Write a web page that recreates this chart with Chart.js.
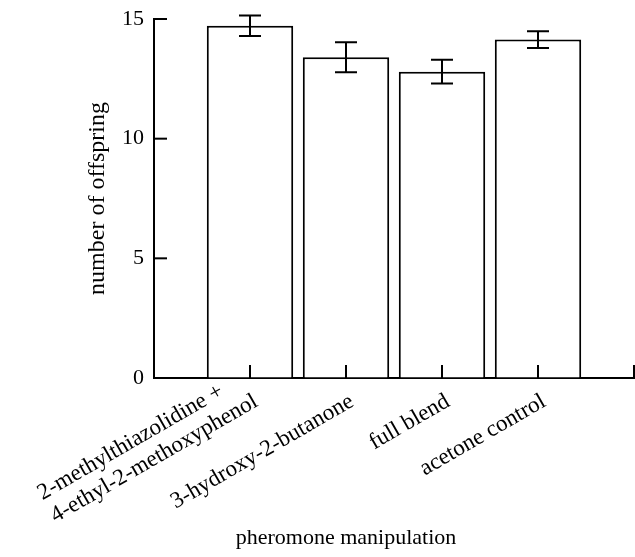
<!DOCTYPE html>
<html>
<head>
<meta charset="utf-8">
<style>
  html, body { margin: 0; padding: 0; background: #fff; }
</style>
</head>
<body>
<canvas id="myChart" width="635" height="557"></canvas>
<script src="https://cdn.jsdelivr.net/npm/chart.js"></script>
<script>
  // values
  const categories = [
    ["2-methylthiazolidine +", "4-ethyl-2-methoxyphenol"],
    "3-hydroxy-2-butanone",
    "full blend",
    "acetone control",
  ];
  const offspring = [14.72, 13.4, 12.8, 14.14];
  const errors = [0.43, 0.63, 0.5, 0.35];
  const yTicks = [0, 5, 10, 15];

  const FONT = "'Liberation Serif', 'Times New Roman', serif";
  // empty slot at each end so bars sit at 1..4 on a 0..5 axis
  const labels = ["", ...categories, ""];
  const values = [null, ...offspring, null];

  const decor = {
    id: "decor",
    afterDatasetsDraw(chart) {
      const { ctx, scales } = chart;
      const x = scales.x, y = scales.y;
      ctx.save();
      ctx.strokeStyle = "#000";
      ctx.lineWidth = 2;
      // inward ticks
      yTicks.forEach((v) => {
        const py = y.getPixelForValue(v);
        ctx.beginPath();
        ctx.moveTo(x.left, py);
        ctx.lineTo(x.left + 13, py);
        ctx.stroke();
      });
      for (let i = 1; i < labels.length; i++) {
        const px = x.getPixelForValue(i);
        ctx.beginPath();
        ctx.moveTo(px, y.bottom);
        ctx.lineTo(px, y.bottom - 13);
        ctx.stroke();
      }
      // error bars
      const meta = chart.getDatasetMeta(0);
      offspring.forEach((m, i) => {
        const bar = meta.data[i + 1];
        const hi = y.getPixelForValue(m + errors[i]);
        const lo = y.getPixelForValue(m - errors[i]);
        ctx.beginPath();
        ctx.moveTo(bar.x, hi);
        ctx.lineTo(bar.x, lo);
        ctx.moveTo(bar.x - 11, hi);
        ctx.lineTo(bar.x + 11, hi);
        ctx.moveTo(bar.x - 11, lo);
        ctx.lineTo(bar.x + 11, lo);
        ctx.stroke();
      });
      // rotated category labels, block left-aligned, last line at the tick
      ctx.fillStyle = "#000";
      ctx.font = "23px " + FONT;
      ctx.textBaseline = "middle";
      ctx.textAlign = "left";
      const lh = 26;
      categories.forEach((c, i) => {
        const lines = Array.isArray(c) ? c : [c];
        const w = Math.max(...lines.map((l) => ctx.measureText(l).width));
        ctx.save();
        ctx.translate(x.getPixelForValue(i + 1) + 6, y.bottom + 22);
        ctx.rotate(-Math.PI / 6);
        lines.forEach((l, k) => {
          ctx.fillText(l, -w, -(lines.length - 1 - k) * lh);
        });
        ctx.restore();
      });
      // x axis title
      ctx.font = "22px " + FONT;
      ctx.textAlign = "center";
      ctx.fillText("pheromone manipulation", 346, 538);
      ctx.restore();
    },
  };

  new Chart(document.getElementById("myChart"), {
    type: "bar",
    data: {
      labels: labels,
      datasets: [
        {
          data: values,
          backgroundColor: "#fff",
          borderColor: "#000",
          borderWidth: 2,
          borderSkipped: "bottom",
          categoryPercentage: 1,
          barPercentage: 0.9,
        },
      ],
    },
    options: {
      responsive: false,
      animation: false,
      events: [],
      layout: { padding: { top: 19, right: 1, left: 83, bottom: 0 } },
      plugins: { legend: { display: false }, tooltip: { enabled: false } },
      scales: {
        x: {
          offset: false,
          grid: { display: true, drawOnChartArea: false, drawTicks: false },
          border: { color: "#000", width: 2 },
          ticks: { display: false },
          afterFit: (s) => {
            s.height = 179;
            s.paddingLeft = 0;
            s.paddingRight = 0;
          },
        },
        y: {
          min: 0,
          max: 15,
          afterBuildTicks: (s) => { s.ticks = yTicks.map((v) => ({ value: v })); },
          grid: { display: true, drawOnChartArea: false, drawTicks: false },
          border: { color: "#000", width: 2 },
          ticks: {
            color: "#000",
            font: { family: FONT, size: 22 },
            padding: 10,
          },
          title: {
            display: true,
            text: "number of offspring",
            color: "#000",
            font: { family: FONT, size: 24 },
            padding: 0,
          },
          afterFit: (s) => {
            s.width = 71;
            s.paddingTop = 0;
            s.paddingBottom = 0;
          },
        },
      },
    },
    plugins: [decor],
  });
</script>
</body>
</html>
